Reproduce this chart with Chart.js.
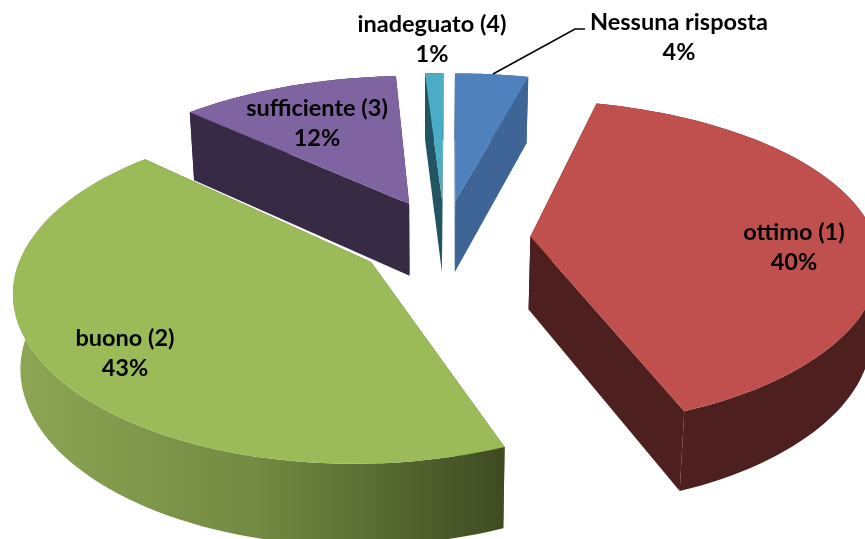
<!DOCTYPE html>
<html>
<head>
<meta charset="utf-8">
<style>
  html, body { margin: 0; padding: 0; background: #fff; overflow: hidden; }
  canvas { display: block; }
</style>
<script src="https://cdn.jsdelivr.net/npm/chart.js@4"></script>
</head>
<body>
<canvas id="pie3d" width="865" height="539"></canvas>
<script>
var categories = ['Nessuna risposta', 'ottimo (1)', 'buono (2)', 'sufficiente (3)', 'inadeguato (4)'];
var percentages = [4, 40, 43, 12, 1];

var topColors = ['#4f81bd', '#c0504d', '#9bbb59', '#8064a2', '#4bacc6'];
var cutColors = ['#3e6595', '#4d1f1e', '#4a5a2a', '#372a45', '#215562'];
var wallColors = ['#3e6595', '#4d1f1e', null, '#372a45', '#215562'];

// where the label block of each slice is centred, [x, y of first line]
var labelSpots = [[679, 22], [794, 232], [125, 338], [317, 108], [432, 24]];

// 3d look of the old office pie: explosion, radii, perspective, thickness
var cx = 444.5, cy = 239, rx = 345, ry = 160, explode = 0.25;
var perspX = 0.14, perspY = 0.165, shearFar = 1, shearNear = 5;
var thick = 73, vanishX = 430, shrinkX = 0.982, growY = 1.04;

function project(a, b) {
    var shear = b < 0 ? shearNear : shearFar;
    return [cx + rx * a / (1 + perspX * b) + shear * b, cy - ry * b / (1 + perspY * b)];
}

function drop(p) {
    return [vanishX + (p[0] - vanishX) * shrinkX, cy + (p[1] - cy) * growY + thick];
}

function fillPoly(ctx, pts, color) {
    ctx.beginPath();
    pts.forEach(function (p, i) {
        if (i == 0) ctx.moveTo(p[0], p[1]); else ctx.lineTo(p[0], p[1]);
    });
    ctx.closePath();
    ctx.fillStyle = color;
    ctx.fill();
}

function drawSlice(ctx, el, i) {
    // arc angles come from the pie controller, 0 = top, clockwise
    var start = el.startAngle + Math.PI / 2;
    var end = el.endAngle + Math.PI / 2;
    var mid = (start + end) / 2;
    var ex = explode * Math.sin(mid), ey = explode * Math.cos(mid);

    var apex = project(ex, ey);
    var rim = [];
    var steps = 80;
    for (var s = 0; s <= steps; s++) {
        var t = start + (end - start) * s / steps;
        rim.push(project(ex + Math.sin(t), ey + Math.cos(t)));
    }
    var rimDown = rim.map(drop);
    var apexDown = drop(apex);

    // cut faces
    fillPoly(ctx, [apex, rim[0], rimDown[0], apexDown], cutColors[i]);
    fillPoly(ctx, [apex, rim[steps], rimDown[steps], apexDown], cutColors[i]);

    // outer wall
    var wall = wallColors[i];
    if (!wall) {
        wall = ctx.createLinearGradient(15, 0, 500, 0);
        wall.addColorStop(0, '#8ca654');
        wall.addColorStop(0.5, '#728a42');
        wall.addColorStop(1, '#3f4c22');
    }
    fillPoly(ctx, rim.concat(rimDown.slice().reverse()), wall);

    // top face
    fillPoly(ctx, [apex].concat(rim), topColors[i]);
}

var pie3dPlugin = {
    id: 'pie3d',
    beforeDatasetDraw: function (chart, args) {
        var ctx = chart.ctx;
        var arcs = args.meta.data;
        // far slices first, green has to sit over the purple side
        [3, 4, 0, 1, 2].forEach(function (i) {
            drawSlice(ctx, arcs[i], i);
        });
        return false;
    },
    afterDraw: function (chart) {
        var ctx = chart.ctx;
        ctx.save();
        ctx.fillStyle = '#000';
        ctx.textAlign = 'center';
        ctx.textBaseline = 'middle';
        ctx.font = 'bold 23.5px Lato';
        categories.forEach(function (name, i) {
            var spot = labelSpots[i];
            ctx.fillText(name, spot[0], spot[1]);
            ctx.fillText(percentages[i] + '%', spot[0], spot[1] + 30);
        });
        // leader line of the small blue slice
        ctx.strokeStyle = '#000';
        ctx.lineWidth = 1.5;
        ctx.beginPath();
        ctx.moveTo(493, 74);
        ctx.lineTo(575, 29);
        ctx.lineTo(585, 29);
        ctx.stroke();
        ctx.restore();
    }
};

new Chart(document.getElementById('pie3d'), {
    type: 'pie',
    data: {
        labels: categories,
        datasets: [{
            data: percentages,
            backgroundColor: topColors,
            borderWidth: 0
        }]
    },
    options: {
        responsive: false,
        animation: false,
        plugins: {
            legend: { display: false },
            tooltip: { enabled: false }
        }
    },
    plugins: [pie3dPlugin]
});
</script>
</body>
</html>
